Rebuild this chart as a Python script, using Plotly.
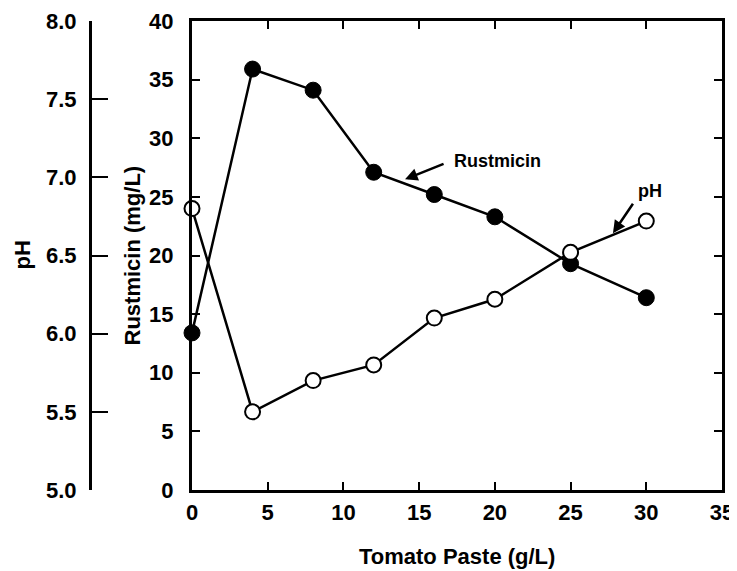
import plotly.graph_objects as go

# --- データ ---
paste = [0, 4, 8, 12, 16, 20, 25, 30]
rustmicin = [13.4, 35.9, 34.1, 27.1, 25.2, 23.3, 19.3, 16.4]
ph = [6.80, 5.50, 5.70, 5.80, 6.10, 6.22, 6.52, 6.72]

x_ticks = [0, 5, 10, 15, 20, 25, 30, 35]
rust_ticks = [0, 5, 10, 15, 20, 25, 30, 35, 40]
ph_ticks = [5.0, 5.5, 6.0, 6.5, 7.0, 7.5, 8.0]

FONT = "Liberation Sans"
BLACK = "#000000"

# ページの body には 8px の余白があるので、図はその分小さくする
OFF = 8
FIG_W, FIG_H = 737 - OFF, 571 - OFF

fig = go.Figure()

# Rustmicin (黒丸)
fig.add_trace(go.Scatter(
    x=paste, y=rustmicin, mode="lines+markers", name="Rustmicin",
    line=dict(color=BLACK, width=2.5),
    marker=dict(symbol="circle", size=16, color=BLACK, line=dict(color=BLACK, width=1)),
    cliponaxis=False, yaxis="y"))

# pH (白丸)
fig.add_trace(go.Scatter(
    x=paste, y=ph, mode="lines+markers", name="pH",
    line=dict(color=BLACK, width=2.5),
    marker=dict(symbol="circle", size=15, color="white", line=dict(color=BLACK, width=2)),
    cliponaxis=False, yaxis="y2"))

tick_font = dict(family=FONT, size=22, color=BLACK, weight="bold")
title_font = dict(family=FONT, size=22, color=BLACK, weight="bold")

# ページ座標 -> 図の座標
L, T = 90 - OFF, 21 - OFF
R = 737 - 722
B = 571 - 490
W = FIG_W - L - R
H = FIG_H - T - B
x0 = (192 - OFF - L) / W

fig.update_layout(
    width=FIG_W, height=FIG_H,
    margin=dict(l=L, r=R, t=T, b=B, autoexpand=False),
    paper_bgcolor="white", plot_bgcolor="white",
    showlegend=False,
    font=dict(family=FONT, color=BLACK),
    xaxis=dict(
        domain=[x0, 1], range=[0, 35], tickvals=x_ticks, automargin=False,
        showline=True, linewidth=3, linecolor=BLACK, mirror="ticks",
        ticks="inside", ticklen=8, tickwidth=2, tickcolor=BLACK,
        showgrid=False, zeroline=False, tickfont=tick_font,
        ticklabelstandoff=1),
    yaxis=dict(
        range=[0, 40], tickvals=rust_ticks, anchor="x", automargin=False,
        showline=True, linewidth=3, linecolor=BLACK, mirror="ticks",
        ticks="inside", ticklen=8, tickwidth=2, tickcolor=BLACK,
        showgrid=False, zeroline=False, tickfont=tick_font,
        ticklabelstandoff=11),
    yaxis2=dict(
        range=[5, 8], tickvals=ph_ticks, tickformat=".1f", automargin=False,
        overlaying="y", anchor="free", position=0, side="left",
        showline=True, linewidth=3, linecolor=BLACK,
        ticks="inside", ticklen=16, tickwidth=2, tickcolor=BLACK,
        showgrid=False, zeroline=False, tickfont=tick_font,
        ticklabelstandoff=8),
)

# 軸タイトル
fig.add_annotation(text="Tomato Paste (g/L)", xref="paper", yref="paper",
                   x=x0 + (1 - x0) * (17.5 / 35), y=-(556 - OFF - (T + H)) / H,
                   showarrow=False, font=title_font, xanchor="center", yanchor="middle")
fig.add_annotation(text="Rustmicin (mg/L)", xref="paper", yref="paper",
                   x=(132 - OFF - L) / W, y=0.5, showarrow=False, textangle=-90,
                   font=title_font, xanchor="center", yanchor="middle")
fig.add_annotation(text="pH", xref="paper", yref="paper",
                   x=(22 - OFF - L) / W, y=0.5, showarrow=False, textangle=-90,
                   font=title_font, xanchor="center", yanchor="middle")

# 矢印ラベル
ann_font = dict(family=FONT, size=18, color=BLACK, weight="bold")
fig.add_annotation(x=14.07, y=26.5, xref="x", yref="y", text="", showarrow=True,
                   ax=40, ay=-16, arrowhead=2, arrowsize=1, arrowwidth=2.5, arrowcolor=BLACK)
fig.add_annotation(x=17.2, y=28.1, xref="x", yref="y", text="Rustmicin",
                   showarrow=False, xanchor="left", yanchor="middle", font=ann_font)
fig.add_annotation(x=27.8, y=21.9, xref="x", yref="y", text="", showarrow=True,
                   ax=21, ay=-31, arrowhead=2, arrowsize=1, arrowwidth=2.5, arrowcolor=BLACK)
fig.add_annotation(x=30.25, y=25.5, xref="x", yref="y", text="pH",
                   showarrow=False, xanchor="center", yanchor="middle", font=ann_font)

fig.write_html("out.html")
